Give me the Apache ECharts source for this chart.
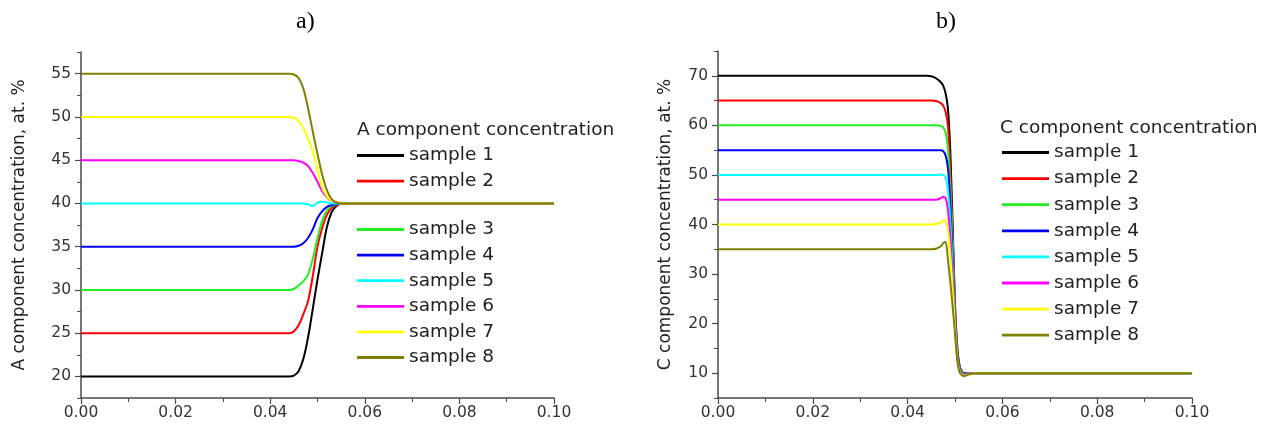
<!DOCTYPE html>
<html><head><meta charset="utf-8">
<script src="https://cdn.jsdelivr.net/npm/echarts@6/dist/echarts.min.js"></script>
<style>html,body{margin:0;padding:0;background:#fff}#c{width:1263px;height:444px}</style>
</head><body><div id="c"></div>
<script>
// ---- data ----
const sampleNames = ['sample 1','sample 2','sample 3','sample 4','sample 5','sample 6','sample 7','sample 8'];
const sampleColors = ['#000000','#ff0000','#22ee22','#0000ff','#00ffff','#ff00ff','#ffff00','#808000'];

const xA = [0, 0.044, 0.045, 0.046, 0.047, 0.048, 0.049, 0.05, 0.051, 0.052, 0.053, 0.054, 0.055, 0.056, 0.1];
const A1 = [20, 20, 20.1, 20.6, 22, 24.5, 27.8, 31.2, 34.3, 37.3, 39, 39.7, 40, 40, 40];
const A2 = [25, 25, 25.2, 25.9, 27.2, 28.7, 31.6, 35, 37.2, 38.7, 39.5, 39.8, 40, 40, 40];
const A3 = [30, 30, 30.1, 30.5, 31, 31.8, 33.6, 36, 38, 39.2, 39.7, 39.9, 40, 40, 40];
const A4 = [35, 35, 35, 35.1, 35.4, 36, 37, 38.3, 39.1, 39.6, 39.8, 39.9, 40, 40, 40];
const A5 = [40, 40, 40, 40, 40, 39.9, 39.7, 40.1, 40.2, 40.1, 40, 40, 40, 40, 40];
const A6 = [45, 45, 45, 44.9, 44.7, 44.3, 43.5, 42.5, 41.4, 40.7, 40.3, 40.1, 40, 40, 40];
const A7 = [50, 50, 49.9, 49.5, 48.7, 47.5, 46, 43.8, 41.8, 40.8, 40.3, 40.1, 40, 40, 40];
const A8 = [55, 55, 54.9, 54.5, 53.3, 51, 48.3, 45.7, 43.3, 41.5, 40.5, 40.1, 40, 40, 40];

const xC = [0, 0.044, 0.045, 0.046, 0.047, 0.0475, 0.048, 0.0485, 0.049, 0.0495, 0.05, 0.0505, 0.051, 0.0515, 0.052, 0.053, 0.055, 0.1];
const C1 = [70, 70, 69.9, 69.5, 68.7, 68, 66.5, 63.5, 55, 40, 24, 15, 11.3, 10.3, 10, 10, 10, 10];
const C2 = [65, 65, 65, 64.9, 64.5, 64, 62.8, 60, 51, 38, 23, 14.5, 11.1, 10.2, 9.9, 10, 10, 10];
const C3 = [60, 60, 60, 60, 59.9, 59.6, 58.6, 55.5, 47.5, 36, 22, 14, 10.9, 10.1, 9.8, 10, 10, 10];
const C4 = [55, 55, 55, 55, 55, 54.8, 54, 51.5, 44.5, 33, 21, 13.5, 10.7, 10, 9.8, 9.9, 10, 10];
const C5 = [50, 50, 50, 50, 50.1, 50, 49.6, 47, 41, 31, 20, 13, 10.5, 9.9, 9.7, 9.9, 10, 10];
const C6 = [45, 45, 45, 45, 45.3, 45.6, 45.4, 43, 37.5, 29, 19.5, 13, 10.4, 9.8, 9.6, 9.9, 10, 10];
const C7 = [40, 40, 40, 40.1, 40.4, 40.8, 40.7, 39, 34, 27, 19, 12.5, 10.3, 9.7, 9.5, 9.8, 10, 10];
const C8 = [35, 35, 35, 35.1, 35.6, 36.2, 36.5, 33, 28.5, 23.5, 18, 12.5, 10.1, 9.6, 9.4, 9.8, 10, 10];

const yTicksA = [20, 25, 30, 35, 40, 45, 50, 55];
const yMinorA = [17.5, 22.5, 27.5, 32.5, 37.5, 42.5, 47.5, 52.5, 57.5];
const yTicksC = [10, 20, 30, 40, 50, 60, 70];
const yMinorC = [5, 15, 25, 35, 45, 55, 65, 75];

const seriesA = [A1, A2, A3, A4, A5, A6, A7, A8];
const seriesC = [C1, C2, C3, C4, C5, C6, C7, C8];

// ---- chart ----
const chart = echarts.init(document.getElementById('c'));
const FONT = '"DejaVu Sans", sans-serif';
const axisCol = '#4a4a4a';
const LINE_ICON = 'path://M0,0H100V6H0Z';

function xAxisDef(gi) {
  return {
    type: 'value', gridIndex: gi, min: 0, max: 0.1, interval: 0.02,
    axisLine: { show: true, lineStyle: { color: axisCol, width: 1.5 } },
    axisTick: { show: true, length: 6, lineStyle: { color: axisCol, width: 1.2 } },
    minorTick: { show: true, splitNumber: 2, length: 4, lineStyle: { color: axisCol, width: 1 } },
    splitLine: { show: false },
    axisLabel: { color: '#333', fontFamily: FONT, fontSize: 15.5, margin: 7, formatter: v => v.toFixed(2) },
    name: 'x, m', nameLocation: 'middle', nameGap: 43,
    nameTextStyle: { color: '#333', fontFamily: FONT, fontSize: 17 }
  };
}
function yMain(gi, min, max, ticks, name, gap) {
  return {
    type: 'value', gridIndex: gi, min: min, max: max,
    axisLine: { show: true, lineStyle: { color: axisCol, width: 1.5 } },
    axisTick: { show: true, length: 6, customValues: ticks, lineStyle: { color: axisCol, width: 1.2 } },
    axisLabel: { color: '#333', fontFamily: FONT, fontSize: 15.5, margin: 10, customValues: ticks },
    splitLine: { show: false },
    name: name, nameLocation: 'middle', nameGap: gap, nameRotate: 90,
    nameTextStyle: { color: '#222', fontFamily: FONT, fontSize: 17 }
  };
}
function yMinor(gi, min, max, ticks) {
  return {
    type: 'value', gridIndex: gi, min: min, max: max, position: 'left',
    axisLine: { show: false },
    axisTick: { show: true, length: 4, customValues: ticks, lineStyle: { color: axisCol, width: 1 } },
    axisLabel: { show: false, customValues: [] },
    splitLine: { show: false }
  };
}

const series = [];
seriesA.forEach((arr, i) => {
  series.push({
    name: sampleNames[i], type: 'line', xAxisIndex: 0, yAxisIndex: 0,
    data: xA.map((x, k) => [x, arr[k]]), symbol: 'none', smooth: 0.35,
    lineStyle: { color: sampleColors[i], width: 2 }, itemStyle: { color: sampleColors[i] }, z: 2 + i
  });
});
seriesC.forEach((arr, i) => {
  series.push({
    name: sampleNames[i], type: 'line', xAxisIndex: 1, yAxisIndex: 2,
    data: xC.map((x, k) => [x, arr[k]]), symbol: 'none', smooth: 0.3,
    lineStyle: { color: sampleColors[i], width: 2 }, itemStyle: { color: sampleColors[i] }, z: 2 + i
  });
});

const legendText = { color: '#222', fontFamily: FONT, fontSize: 18.5, lineHeight: 18 };
const legendBase = { orient: 'vertical', padding: 0, icon: LINE_ICON, itemWidth: 47, itemHeight: 14, textStyle: legendText, selectedMode: false };
const serifTitle = { fontFamily: '"Liberation Serif", serif', fontSize: 24, fontWeight: 'normal', color: '#000' };
const legTitle = { fontFamily: FONT, fontSize: 18.5, fontWeight: 'normal', color: '#222' };
chart.setOption({
  animation: false,
  title: [
    { text: 'a)', left: 291, top: 5, textStyle: serifTitle },
    { text: 'b)', left: 931, top: 5, textStyle: serifTitle },
    { text: 'A component concentration', left: 352, top: 116, textStyle: legTitle },
    { text: 'C component concentration', left: 995, top: 114, textStyle: legTitle }
  ],
  grid: [
    { left: 81, top: 52, width: 473, height: 346, outerBoundsMode: 'none', containLabel: false },
    { left: 718, top: 51, width: 474, height: 347, outerBoundsMode: 'none', containLabel: false }
  ],
  xAxis: [xAxisDef(0), xAxisDef(1)],
  yAxis: [
    yMain(0, 17.5, 57.5, yTicksA, 'A component concentration, at. %', 53),
    yMinor(0, 17.5, 57.5, yMinorA),
    yMain(1, 5, 75, yTicksC, 'C component concentration, at. %', 44),
    yMinor(1, 5, 75, yMinorC)
  ],
  legend: [
    Object.assign({ data: sampleNames.slice(0, 2), left: 357, top: 146, itemGap: 6.6 }, legendBase),
    Object.assign({ data: sampleNames.slice(2), left: 357, top: 220, itemGap: 6.6 }, legendBase),
    Object.assign({ data: sampleNames, left: 1002, top: 143, itemGap: 7.1 }, legendBase)
  ],
  series: series
});
</script></body></html>
